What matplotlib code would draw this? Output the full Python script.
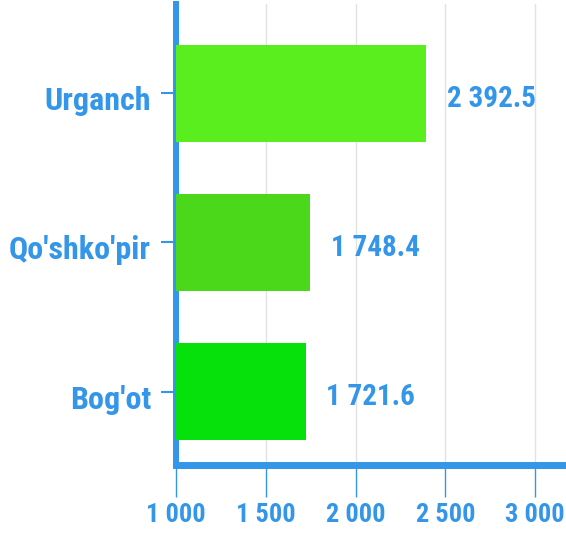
import matplotlib.pyplot as plt
from matplotlib.transforms import ScaledTranslation

# ============================================================
# Data
# ============================================================
districts = ["Bog'ot", "Qo'shko'pir", "Urganch"]
values = [1721.6, 1748.4, 2392.5]
bar_colors = ["#06e00b", "#4cd81a", "#5aee1f"]
x_ticks = [1000, 1500, 2000, 2500, 3000]
x_tick_labels = ["1 000", "1 500", "2 000", "2 500", "3 000"]

BLUE = "#3396e8"
FONT = ["Roboto Condensed", "DejaVu Sans"]


def fmt(v):
    # space as thousands separator
    return f"{v:,.1f}".replace(",", " ")


fig = plt.figure(figsize=(5.66, 5.36), dpi=100)
ax = fig.add_axes([176 / 566, 71 / 536, 1 - 176 / 566, (465 - 4) / 536])

ypos = list(range(len(districts)))
ax.barh(ypos, [v - 1000 for v in values], left=1000, height=0.65,
        color=bar_colors, zorder=3)

for y, v in zip(ypos, values):
    ax.annotate(fmt(v), xy=(v, y), xytext=(15, -4), textcoords="offset points",
                ha="left", va="center", color=BLUE, fontsize=21,
                fontweight="bold", family=FONT)

ax.set_xlim(1000, 3172)
ax.set_ylim(-0.493, 2.60)

ax.set_xticks(x_ticks)
ax.set_xticklabels(x_tick_labels)
ax.set_yticks(ypos)
ax.set_yticklabels(districts)

ax.tick_params(axis="x", length=23, width=1, color=BLUE, pad=4)
ax.tick_params(axis="y", length=11, width=1.5, color=BLUE, pad=7)

shift = ScaledTranslation(0, -5 / 100, fig.dpi_scale_trans)
for lbl in ax.get_xticklabels():
    lbl.set_family(FONT)
    lbl.set_fontweight("bold")
    lbl.set_color(BLUE)
    lbl.set_fontsize(19)
for lbl in ax.get_yticklabels():
    lbl.set_family(FONT)
    lbl.set_fontweight("bold")
    lbl.set_color(BLUE)
    lbl.set_fontsize(23)
    lbl.set_transform(lbl.get_transform() + shift)

ax.grid(axis="x", color="#e2e2e2", linewidth=1, zorder=0)
ax.set_axisbelow(True)

for side in ["top", "right"]:
    ax.spines[side].set_visible(False)
ax.spines["left"].set_color(BLUE)
ax.spines["left"].set_linewidth(4.3)
ax.spines["bottom"].set_color(BLUE)
ax.spines["bottom"].set_linewidth(5)

fig.savefig("out.png", dpi=100)
